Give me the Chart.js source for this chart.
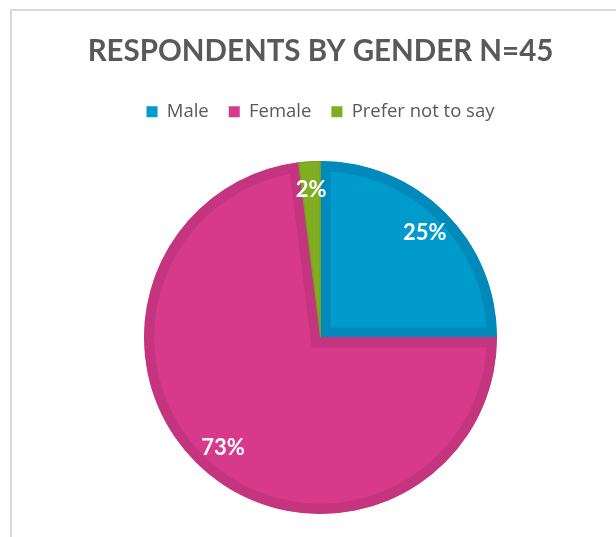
<!DOCTYPE html>
<html>
<head>
<meta charset="utf-8">
<script src="https://cdn.jsdelivr.net/npm/chart.js@4.4.1/dist/chart.umd.min.js"></script>
<style>
  html, body { margin: 0; padding: 0; background: #ffffff; overflow: hidden; }
  #wrap { position: relative; width: 616px; height: 537px; }
  #frame { position: absolute; left: 10px; top: 9px; width: 700px; height: 600px;
           border-left: 2px solid #d9d9d9; border-top: 2px solid #d9d9d9; box-sizing: border-box; }
  #c { position: absolute; left: 0; top: 0; }
</style>
</head>
<body>
<div id="wrap">
  <div id="frame"></div>
  <canvas id="c" width="616" height="537"></canvas>
</div>
<script>
// ---- data ----
const categories = ['Male', 'Female', 'Prefer not to say'];
const values = [25, 73, 2];            // percent
const titleText = 'RESPONDENTS BY GENDER N=45';

// ---- styles ----
const fillColors = ['#009bcd', '#d83a8b', '#80ad21'];
const edgeColors = ['#0189bb', '#c5357f', '#76a11e'];
const edgeWidths = [10, 10, 1];
const titleFont = 'Lato, "Open Sans", sans-serif';
const textFont = '"Open Sans", Lato, sans-serif';

const sliceLabels = {
  id: 'sliceLabels',
  afterDatasetsDraw(chart) {
    const ctx = chart.ctx;
    const meta = chart.getDatasetMeta(0);
    ctx.save();
    ctx.fillStyle = '#ffffff';
    ctx.font = 'bold 22px ' + titleFont;
    ctx.textAlign = 'center';
    ctx.textBaseline = 'middle';
    meta.data.forEach((arc, i) => {
      const p = arc.getProps(['x', 'y', 'startAngle', 'endAngle', 'outerRadius'], true);
      const mid = (p.startAngle + p.endAngle) / 2;
      const r = p.outerRadius - 29;
      ctx.fillText(values[i] + '%', p.x + Math.cos(mid) * r, p.y + Math.sin(mid) * r);
    });
    ctx.restore();
  }
};

const legendGap = {
  id: 'legendGap',
  beforeInit(chart) {
    const orig = chart.legend.fit;
    chart.legend.fit = function () {
      orig.call(this);
      this.height += 30;
    };
  }
};

new Chart(document.getElementById('c'), {
  type: 'pie',
  data: {
    labels: categories,
    datasets: [{
      data: values,
      backgroundColor: fillColors,
      borderColor: edgeColors,
      borderWidth: edgeWidths,
      borderAlign: 'inner',
      borderJoinStyle: 'miter'
    }]
  },
  options: {
    responsive: false,
    animation: false,
    devicePixelRatio: 1,
    layout: { padding: { left: 25, right: 0, top: 0, bottom: 23 } },
    plugins: {
      title: {
        display: true,
        text: titleText,
        color: '#595959',
        font: { family: titleFont, size: 29.5, weight: 'bold' },
        padding: { top: 34, bottom: 13 }
      },
      legend: {
        position: 'top',
        labels: {
          color: '#595959',
          font: { family: textFont, size: 18.5 },
          boxWidth: 11,
          boxHeight: 11,
          padding: 20,
          generateLabels(chart) {
            const base = Chart.overrides.pie.plugins.legend.labels.generateLabels(chart);
            return base.map((l, i) => Object.assign(l, { lineWidth: 0, strokeStyle: fillColors[i] }));
          }
        }
      },
      tooltip: { enabled: false }
    }
  },
  plugins: [legendGap, sliceLabels]
});
</script>
</body>
</html>
